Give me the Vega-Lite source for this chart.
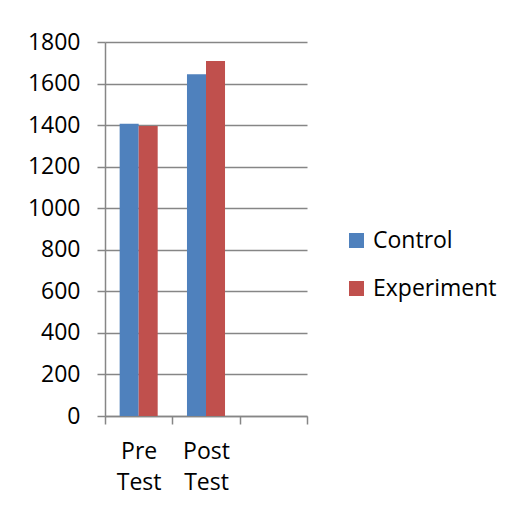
{
  "$schema": "https://vega.github.io/schema/vega-lite/v6.json",
  "autosize": "none",
  "width": 202,
  "height": 374,
  "padding": {"left": 105, "top": 42, "right": 206, "bottom": 93},
  "background": "white",
  "data": {
    "values": [
      {"test": "Pre Test", "group": "Control", "value": 1407},
      {"test": "Pre Test", "group": "Experiment", "value": 1396},
      {"test": "Post Test", "group": "Control", "value": 1645},
      {"test": "Post Test", "group": "Experiment", "value": 1709}
    ]
  },
  "mark": {"type": "bar"},
  "encoding": {
    "x": {
      "field": "test",
      "type": "nominal",
      "scale": {"domain": ["Pre Test", "Post Test", " "], "paddingInner": 0, "paddingOuter": 0},
      "axis": {
        "title": null,
        "labelAngle": 0,
        "labelExpr": "split(datum.label, ' ')",
        "tickBand": "extent",
        "ticks": true,
        "tickSize": 8,
        "tickColor": "#868686",
        "tickWidth": 1.5,
        "domainColor": "#868686",
        "domainWidth": 1.5,
        "grid": false,
        "labelFont": "Open Sans",
        "labelFontSize": 23,
        "labelColor": "#000000",
        "labelPadding": 16,
        "labelLineHeight": 31
      }
    },
    "xOffset": {
      "field": "group",
      "type": "nominal",
      "scale": {"paddingInner": 0, "paddingOuter": 0.77}
    },
    "y": {
      "field": "value",
      "type": "quantitative",
      "scale": {"domain": [0, 1800], "nice": false},
      "axis": {
        "title": null,
        "format": "d",
        "values": [0, 200, 400, 600, 800, 1000, 1200, 1400, 1600, 1800],
        "grid": true,
        "gridColor": "#868686",
        "gridWidth": 1.5,
        "tickSize": 8,
        "tickColor": "#868686",
        "tickWidth": 1.5,
        "domainColor": "#868686",
        "domainWidth": 1.5,
        "labelFont": "Open Sans",
        "labelFontSize": 23,
        "labelColor": "#000000",
        "labelPadding": 17
      }
    },
    "color": {
      "field": "group",
      "type": "nominal",
      "scale": {"domain": ["Control", "Experiment"], "range": ["#4F81BD", "#C0504D"]},
      "legend": {
        "title": null,
        "orient": "none",
        "legendX": 240,
        "legendY": 187,
        "symbolType": "square",
        "symbolSize": 225,
        "symbolStrokeWidth": 0,
        "labelFont": "Open Sans",
        "labelFontSize": 23,
        "labelColor": "#000000",
        "rowPadding": 24,
        "labelOffset": 5
      }
    }
  },
  "config": {
    "view": {"stroke": null}
  }
}
